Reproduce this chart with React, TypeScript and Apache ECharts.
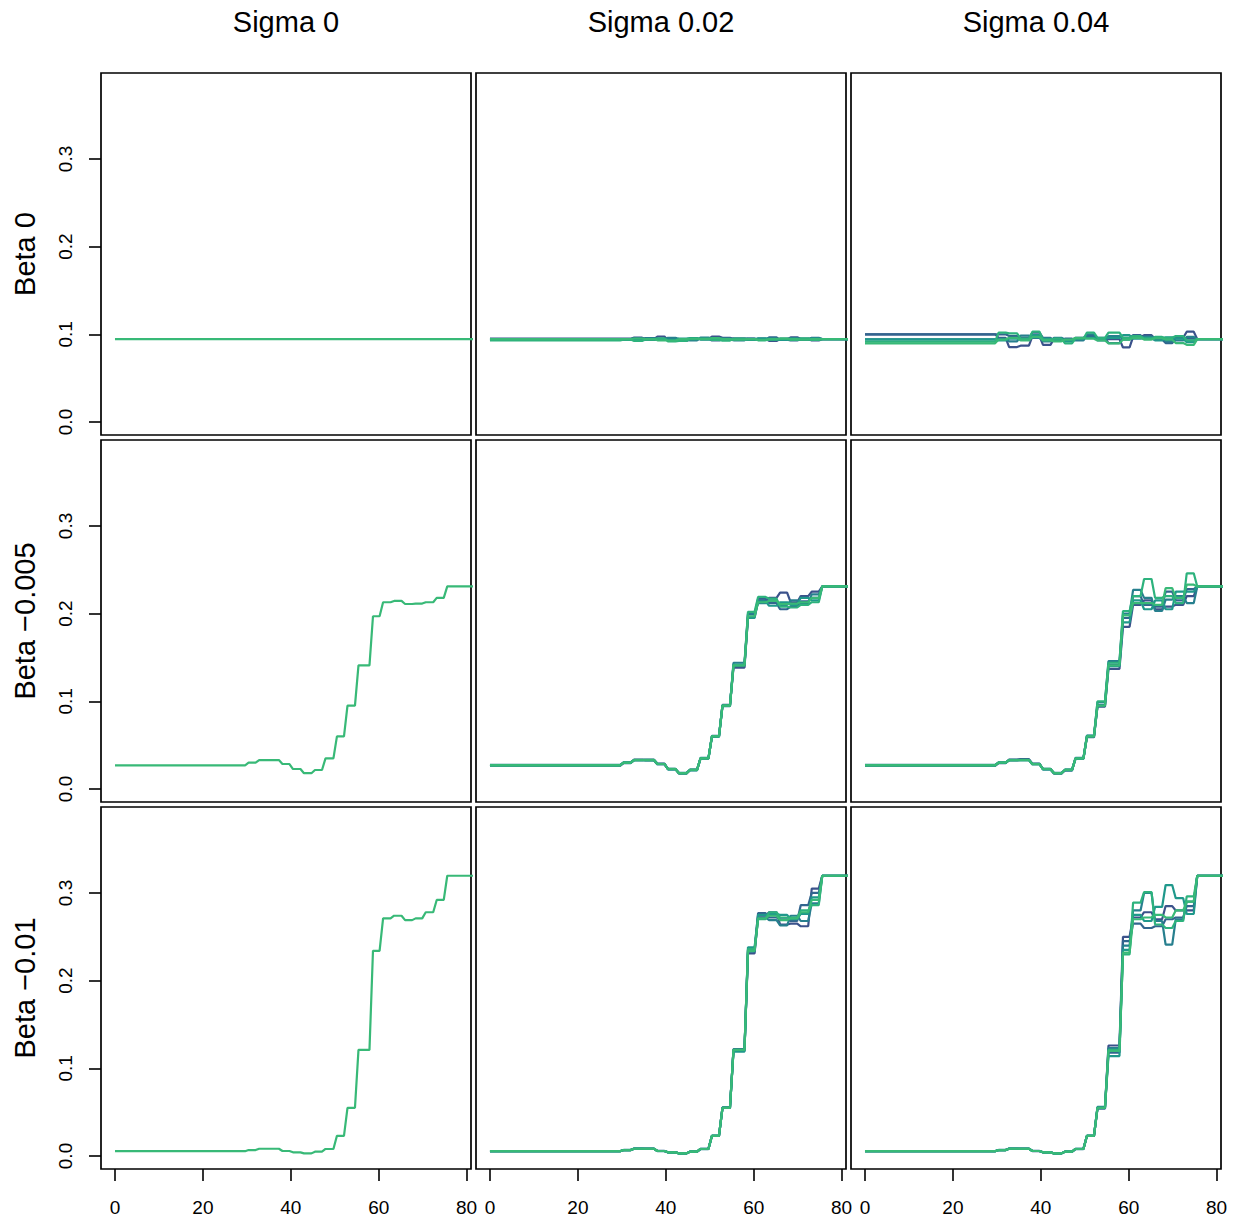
import React, { useEffect, useRef } from "react";
import * as echarts from "echarts";

// ---- axis / layout text ----
const colTitles = ["Sigma 0", "Sigma 0.02", "Sigma 0.04"];
const rowTitles = ["Beta 0", "Beta \u22120.005", "Beta \u22120.01"];
const xTicks = [0, 20, 40, 60, 80];
const yTicks = [0, 0.1, 0.2, 0.3];

// ---- step segments (flat part of each step: start / end x) ----
const segStart = [0, 30.4, 32.8, 35.4, 38.1, 40.5, 43.0, 45.5, 47.9, 50.5, 52.9, 55.4, 58.7, 61.0, 63.5, 66.0, 68.4, 70.7, 73.2, 75.6];
const segEnd = [29.6, 32.0, 34.6, 37.3, 39.7, 42.2, 44.7, 47.1, 49.7, 52.1, 54.6, 57.9, 60.2, 62.7, 65.2, 67.6, 69.9, 72.4, 74.8, 82];

// ---- base curves (Sigma 0) ----
const beta0Base = [0.0945, 0.0945, 0.0945, 0.0945, 0.0945, 0.0945, 0.0945, 0.0945, 0.0945, 0.0945, 0.0945, 0.0945, 0.0945, 0.0945, 0.0945, 0.0945, 0.0945, 0.0945, 0.0945, 0.0945];
const beta005Base = [0.027, 0.030, 0.033, 0.033, 0.0285, 0.0228, 0.018, 0.0217, 0.035, 0.060, 0.095, 0.141, 0.197, 0.213, 0.2145, 0.211, 0.2115, 0.213, 0.218, 0.231];
const beta01Base = [0.0055, 0.0068, 0.0083, 0.0083, 0.0057, 0.0042, 0.003, 0.0049, 0.008, 0.023, 0.055, 0.121, 0.234, 0.271, 0.274, 0.269, 0.271, 0.278, 0.292, 0.3196];

// ---- Beta 0, Sigma 0.02 ----
const b0s2L1 = [0.0950, 0.0950, 0.0962, 0.0945, 0.0975, 0.0930, 0.0940, 0.0950, 0.0945, 0.0975, 0.0960, 0.0945, 0.0935, 0.0950, 0.0925, 0.0945, 0.0965, 0.0950, 0.0930, 0.0945];
const b0s2L2 = [0.0942, 0.0935, 0.0948, 0.0958, 0.0950, 0.0950, 0.0925, 0.0940, 0.0950, 0.0930, 0.0945, 0.0955, 0.0950, 0.0940, 0.0965, 0.0940, 0.0930, 0.0945, 0.0960, 0.0945];
const b0s2L3 = [0.0936, 0.0945, 0.0955, 0.0935, 0.0940, 0.0960, 0.0945, 0.0930, 0.0962, 0.0950, 0.0938, 0.0932, 0.0952, 0.0945, 0.0935, 0.0950, 0.0945, 0.0935, 0.0940, 0.0945];
const b0s2L4 = [0.0946, 0.0940, 0.0935, 0.0950, 0.0945, 0.0938, 0.0952, 0.0958, 0.0940, 0.0945, 0.0952, 0.0942, 0.0935, 0.0955, 0.0950, 0.0935, 0.0955, 0.0945, 0.0955, 0.0945];
const b0s2L5 = [0.0930, 0.0940, 0.0925, 0.0940, 0.0955, 0.0920, 0.0925, 0.0945, 0.0952, 0.0935, 0.0928, 0.0950, 0.0945, 0.0932, 0.0940, 0.0948, 0.0935, 0.0955, 0.0935, 0.0945];
const b0s2L6 = [0.0945, 0.0945, 0.0952, 0.0945, 0.0932, 0.0928, 0.0945, 0.0952, 0.0945, 0.0958, 0.0945, 0.0938, 0.0945, 0.0938, 0.0945, 0.0952, 0.0945, 0.0938, 0.0945, 0.0945];

// ---- Beta 0, Sigma 0.04 ----
const b0s4L1 = [0.1000, 0.0960, 0.0855, 0.0870, 0.0980, 0.0880, 0.0950, 0.0930, 0.0960, 0.0990, 0.0940, 0.0945, 0.0850, 0.0970, 0.0990, 0.0950, 0.0930, 0.0960, 0.1030, 0.0945];
const b0s4L2 = [0.1000, 0.1000, 0.0980, 0.0960, 0.1020, 0.0960, 0.0930, 0.0950, 0.0940, 0.0975, 0.0960, 0.0900, 0.0960, 0.0990, 0.0950, 0.0940, 0.0900, 0.0960, 0.0950, 0.0945];
const b0s4L3 = [0.0943, 0.0950, 0.0920, 0.0985, 0.0960, 0.0920, 0.0960, 0.0940, 0.0930, 0.1000, 0.0930, 0.0980, 0.0940, 0.0960, 0.0975, 0.0960, 0.0920, 0.0930, 0.0970, 0.0945];
const b0s4L4 = [0.0943, 0.0930, 0.0950, 0.0940, 0.0990, 0.0950, 0.0940, 0.0920, 0.0955, 0.0960, 0.0950, 0.0960, 0.0990, 0.0950, 0.0960, 0.0930, 0.0965, 0.0950, 0.0910, 0.0945];
const b0s4L5 = [0.0916, 0.1020, 0.1010, 0.0950, 0.1030, 0.0940, 0.0950, 0.0897, 0.0950, 0.1020, 0.0960, 0.1020, 0.0960, 0.0980, 0.0950, 0.0970, 0.0960, 0.0980, 0.0930, 0.0945];
const b0s4L6 = [0.0897, 0.0940, 0.0960, 0.0930, 0.0970, 0.0930, 0.0920, 0.0940, 0.0960, 0.0950, 0.0930, 0.0897, 0.0940, 0.0960, 0.0940, 0.0955, 0.0940, 0.0900, 0.0880, 0.0945];

// ---- Beta -0.005, Sigma 0.02 ----
const b5s2L1 = [0.0270, 0.0300, 0.0335, 0.0330, 0.0290, 0.0225, 0.0180, 0.0220, 0.0350, 0.0600, 0.0960, 0.1385, 0.1960, 0.2150, 0.2180, 0.2240, 0.2130, 0.2200, 0.2250, 0.231];
const b5s2L2 = [0.0265, 0.0295, 0.0330, 0.0335, 0.0285, 0.0230, 0.0175, 0.0215, 0.0345, 0.0605, 0.0950, 0.1400, 0.1990, 0.2170, 0.2120, 0.2050, 0.2080, 0.2140, 0.2180, 0.231];
const b5s2L3 = [0.0275, 0.0305, 0.0330, 0.0325, 0.0280, 0.0228, 0.0185, 0.0218, 0.0355, 0.0595, 0.0945, 0.1440, 0.2000, 0.2120, 0.2150, 0.2100, 0.2150, 0.2120, 0.2220, 0.231];
const b5s2L4 = [0.0268, 0.0300, 0.0328, 0.0330, 0.0288, 0.0222, 0.0180, 0.0212, 0.0350, 0.0600, 0.0955, 0.1420, 0.1950, 0.2140, 0.2090, 0.2130, 0.2100, 0.2180, 0.2150, 0.231];
const b5s2L5 = [0.0272, 0.0298, 0.0332, 0.0333, 0.0285, 0.0230, 0.0178, 0.0220, 0.0348, 0.0602, 0.0950, 0.1410, 0.2020, 0.2190, 0.2170, 0.2080, 0.2070, 0.2100, 0.2130, 0.231];
const b5s2L6 = [0.0270, 0.0300, 0.0330, 0.0330, 0.0285, 0.0228, 0.0180, 0.0217, 0.0350, 0.0600, 0.0950, 0.1410, 0.1970, 0.2130, 0.2145, 0.2110, 0.2115, 0.2130, 0.2180, 0.231];

// ---- Beta -0.005, Sigma 0.04 ----
const b5s4L1 = [0.0265, 0.0295, 0.0335, 0.0340, 0.0290, 0.0225, 0.0175, 0.0215, 0.0345, 0.0600, 0.0940, 0.1370, 0.1850, 0.2100, 0.2150, 0.2050, 0.2080, 0.2100, 0.2200, 0.231];
const b5s4L2 = [0.0270, 0.0300, 0.0330, 0.0335, 0.0285, 0.0230, 0.0180, 0.0220, 0.0350, 0.0590, 0.0960, 0.1420, 0.1950, 0.2200, 0.2100, 0.2080, 0.2250, 0.2150, 0.2280, 0.231];
const b5s4L3 = [0.0275, 0.0305, 0.0325, 0.0330, 0.0280, 0.0228, 0.0185, 0.0210, 0.0355, 0.0610, 0.0990, 0.1460, 0.2000, 0.2270, 0.2180, 0.2030, 0.2160, 0.2200, 0.2120, 0.231];
const b5s4L4 = [0.0268, 0.0298, 0.0332, 0.0328, 0.0288, 0.0220, 0.0180, 0.0218, 0.0345, 0.0605, 0.0950, 0.1400, 0.1900, 0.2150, 0.2050, 0.2150, 0.2050, 0.2250, 0.2250, 0.231];
const b5s4L5 = [0.0272, 0.0300, 0.0330, 0.0332, 0.0285, 0.0230, 0.0178, 0.0220, 0.0350, 0.0600, 0.1000, 0.1440, 0.2030, 0.2200, 0.2395, 0.2180, 0.2200, 0.2120, 0.2460, 0.231];
const b5s4L6 = [0.0270, 0.0302, 0.0328, 0.0330, 0.0283, 0.0228, 0.0182, 0.0217, 0.0348, 0.0600, 0.0950, 0.1410, 0.1980, 0.2120, 0.2120, 0.2100, 0.2290, 0.2180, 0.2330, 0.231];

// ---- Beta -0.01, Sigma 0.02 ----
const b1s2L1 = [0.0055, 0.0068, 0.0085, 0.0082, 0.0057, 0.0042, 0.0030, 0.0049, 0.0080, 0.0230, 0.0555, 0.1200, 0.2310, 0.2740, 0.2780, 0.2640, 0.2650, 0.2620, 0.3050, 0.3196];
const b1s2L2 = [0.0054, 0.0067, 0.0083, 0.0084, 0.0058, 0.0041, 0.0031, 0.0048, 0.0082, 0.0228, 0.0550, 0.1220, 0.2350, 0.2770, 0.2720, 0.2700, 0.2680, 0.2860, 0.3000, 0.3196];
const b1s2L3 = [0.0056, 0.0069, 0.0082, 0.0083, 0.0056, 0.0043, 0.0029, 0.0050, 0.0079, 0.0232, 0.0548, 0.1210, 0.2330, 0.2720, 0.2690, 0.2630, 0.2740, 0.2680, 0.2880, 0.3196];
const b1s2L4 = [0.0055, 0.0068, 0.0084, 0.0083, 0.0057, 0.0042, 0.0030, 0.0049, 0.0081, 0.0230, 0.0552, 0.1190, 0.2380, 0.2750, 0.2760, 0.2750, 0.2700, 0.2760, 0.2950, 0.3196];
const b1s2L5 = [0.0055, 0.0068, 0.0083, 0.0082, 0.0057, 0.0042, 0.0030, 0.0049, 0.0080, 0.0231, 0.0550, 0.1210, 0.2360, 0.2700, 0.2780, 0.2720, 0.2720, 0.2800, 0.2860, 0.3196];
const b1s2L6 = [0.0055, 0.0068, 0.0083, 0.0083, 0.0057, 0.0042, 0.0030, 0.0049, 0.0080, 0.0230, 0.0550, 0.1210, 0.2340, 0.2710, 0.2740, 0.2690, 0.2710, 0.2780, 0.2920, 0.3196];

// ---- Beta -0.01, Sigma 0.04 ----
const b1s4L1 = [0.0055, 0.0068, 0.0085, 0.0082, 0.0056, 0.0042, 0.0030, 0.0049, 0.0080, 0.0230, 0.0550, 0.1260, 0.2500, 0.2720, 0.2780, 0.2700, 0.2850, 0.2800, 0.2800, 0.3196];
const b1s4L2 = [0.0054, 0.0067, 0.0082, 0.0084, 0.0058, 0.0041, 0.0031, 0.0048, 0.0082, 0.0228, 0.0540, 0.1180, 0.2450, 0.2650, 0.2600, 0.2620, 0.2700, 0.2720, 0.2850, 0.3196];
const b1s4L3 = [0.0056, 0.0069, 0.0083, 0.0083, 0.0057, 0.0043, 0.0029, 0.0050, 0.0079, 0.0232, 0.0560, 0.1230, 0.2400, 0.2800, 0.3000, 0.2680, 0.2410, 0.2700, 0.2900, 0.3196];
const b1s4L4 = [0.0055, 0.0068, 0.0084, 0.0083, 0.0057, 0.0042, 0.0030, 0.0049, 0.0081, 0.0230, 0.0552, 0.1140, 0.2350, 0.2750, 0.2680, 0.2840, 0.3090, 0.2940, 0.2760, 0.3196];
const b1s4L5 = [0.0055, 0.0068, 0.0083, 0.0082, 0.0057, 0.0042, 0.0030, 0.0049, 0.0080, 0.0231, 0.0550, 0.1210, 0.2300, 0.2890, 0.3010, 0.2640, 0.2600, 0.2680, 0.2960, 0.3196];
const b1s4L6 = [0.0055, 0.0068, 0.0083, 0.0083, 0.0057, 0.0042, 0.0030, 0.0049, 0.0080, 0.0230, 0.0550, 0.1200, 0.2320, 0.2700, 0.2720, 0.2750, 0.2720, 0.2800, 0.2900, 0.3196];

const lineColors = ["#3B528B", "#32658E", "#277F8E", "#1F988B", "#2DB27D", "#38B977"];

const panelLines = [
  [[beta0Base], [b0s2L1, b0s2L2, b0s2L3, b0s2L4, b0s2L5, b0s2L6], [b0s4L1, b0s4L2, b0s4L3, b0s4L4, b0s4L5, b0s4L6]],
  [[beta005Base], [b5s2L1, b5s2L2, b5s2L3, b5s2L4, b5s2L5, b5s2L6], [b5s4L1, b5s4L2, b5s4L3, b5s4L4, b5s4L5, b5s4L6]],
  [[beta01Base], [b1s2L1, b1s2L2, b1s2L3, b1s2L4, b1s2L5, b1s2L6], [b1s4L1, b1s4L2, b1s4L3, b1s4L4, b1s4L5, b1s4L6]],
];

const FONT = '"Liberation Sans", Arial, Helvetica, sans-serif';
const panelLeft = [101, 476, 851];
const panelTop = [73, 440, 807];
const PW = 370;
const PH = 362;

function stepPoints(vals: number[]) {
  const pts: number[][] = [];
  vals.forEach((v, k) => {
    pts.push([segStart[k], v]);
    pts.push([segEnd[k], v]);
  });
  return pts;
}

export default function App() {
  const ref = useRef<HTMLDivElement>(null);
  useEffect(() => {
    if (!ref.current) return;
    const chart = echarts.init(ref.current, null, { renderer: "svg" });
    const grid: any[] = [];
    const xAxis: any[] = [];
    const yAxis: any[] = [];
    const series: any[] = [];
    let idx = 0;
    for (let r = 0; r < 3; r++) {
      for (let c = 0; c < 3; c++) {
        grid.push({
          left: panelLeft[c],
          top: panelTop[r],
          width: PW,
          height: PH,
          show: true,
          borderColor: "#000",
          borderWidth: 1.7,
          backgroundColor: "transparent",
        });
        const bottom = r === 2;
        const left = c === 0;
        xAxis.push({
          type: "value",
          gridIndex: idx,
          position: "bottom",
          min: -3.18,
          max: 81,
          splitLine: { show: false },
          axisLine: { show: false, onZero: false },
          axisTick: {
            show: bottom,
            inside: false,
            length: 12,
            customValues: xTicks,
            lineStyle: { color: "#000", width: 1.6 },
          },
          axisLabel: {
            show: bottom,
            customValues: xTicks,
            margin: 38,
            verticalAlign: "middle",
            color: "#000",
            fontSize: 19,
            fontFamily: FONT,
          },
        });
        yAxis.push({
          type: "value",
          gridIndex: idx,
          position: "left",
          min: -0.01482,
          max: 0.398,
          splitLine: { show: false },
          axisLine: { show: false, onZero: false },
          axisTick: {
            show: left,
            inside: false,
            length: 12,
            customValues: yTicks,
            lineStyle: { color: "#000", width: 1.6 },
          },
          axisLabel: {
            show: left,
            customValues: yTicks,
            rotate: 90,
            margin: 36,
            align: "center",
            verticalAlign: "middle",
            color: "#000",
            fontSize: 19,
            fontFamily: FONT,
            formatter: (v: number) => v.toFixed(1),
          },
        });
        const lines = panelLines[r][c];
        lines.forEach((vals, li) => {
          const color = lines.length === 1 ? lineColors[lineColors.length - 1] : lineColors[li];
          series.push({
            type: "line",
            xAxisIndex: idx,
            yAxisIndex: idx,
            data: stepPoints(vals),
            showSymbol: false,
            symbol: "none",
            clip: true,
            silent: true,
            lineStyle: { color, width: 2.2 },
          });
        });
        idx++;
      }
    }
    const graphic: any[] = [];
    colTitles.forEach((t, c) => {
      graphic.push({
        type: "text",
        x: panelLeft[c] + PW / 2,
        y: 22,
        style: {
          text: t,
          fill: "#000",
          font: `29px ${FONT}`,
          textAlign: "center",
          textVerticalAlign: "middle",
          align: "center",
          verticalAlign: "middle",
        },
      });
    });
    rowTitles.forEach((t, r) => {
      graphic.push({
        type: "text",
        x: 25,
        y: panelTop[r] + PH / 2,
        rotation: Math.PI / 2,
        style: {
          text: t,
          fill: "#000",
          font: `29px ${FONT}`,
          textAlign: "center",
          textVerticalAlign: "middle",
          align: "center",
          verticalAlign: "middle",
        },
      });
    });
    chart.setOption({
      animation: false,
      backgroundColor: "#fff",
      grid,
      xAxis,
      yAxis,
      series,
      graphic,
    });
    return () => chart.dispose();
  }, []);
  return (
    <div
      ref={ref}
      style={{ position: "absolute", left: 0, top: 0, width: 1238, height: 1222 }}
    />
  );
}
